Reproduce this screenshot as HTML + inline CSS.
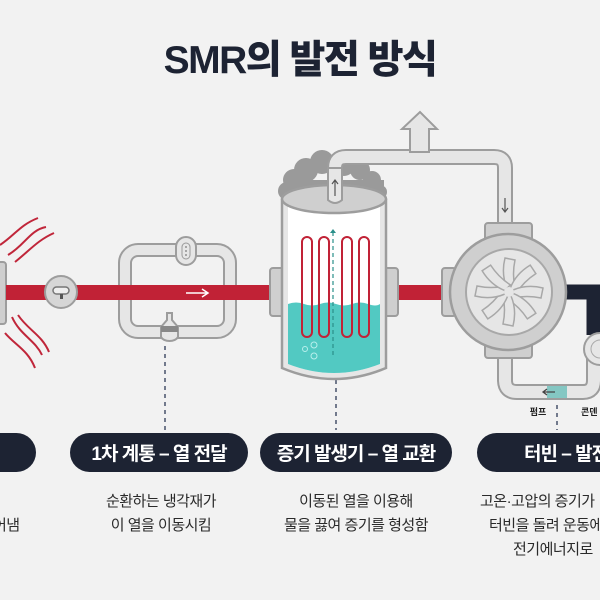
<!DOCTYPE html>
<html><head><meta charset="utf-8"><style>
html,body{margin:0;padding:0;background:#f2f2f2;}
svg{display:block;}
text{font-family:"Liberation Sans","Noto Sans CJK KR",sans-serif;}
</style></head><body>
<svg width="600" height="600" viewBox="0 0 600 600" xmlns="http://www.w3.org/2000/svg">
<rect width="600" height="600" fill="#f2f2f2"/>
<text x="300" y="73" text-anchor="middle" font-size="39" font-weight="900" fill="#1d2333" letter-spacing="-1.5">SMR의 발전 방식</text>

<!-- heat waves -->
<g fill="none" stroke="#c0263a" stroke-width="2">
<path d="M0 245 C15 235,20 225,38 218"/>
<path d="M8 255 C25 245,30 230,46 227"/>
<path d="M15 262 C30 250,38 240,54 233"/>
<path d="M12 317 C20 335,35 340,42 355"/>
<path d="M5 333 C15 345,28 350,35 368"/>
<path d="M18 315 C28 330,42 335,49 352"/>
</g>
<rect x="-6" y="262" width="12" height="62" rx="3" fill="#cfcfcf" stroke="#9d9d9d" stroke-width="2"/>

<!-- primary loop -->
<rect x="125" y="250" width="105" height="82" rx="13" fill="none" stroke="#9d9d9d" stroke-width="14"/>
<rect x="125" y="250" width="105" height="82" rx="13" fill="none" stroke="#e6e6e6" stroke-width="10"/>

<!-- red pipe -->
<rect x="6" y="285" width="440" height="15" fill="#c12236"/>

<!-- valve -->
<circle cx="61" cy="292" r="16" fill="#d6d6d6" stroke="#9d9d9d" stroke-width="2"/>
<rect x="53" y="287" width="16" height="7" rx="3.5" fill="#eee" stroke="#777" stroke-width="1.5"/>
<rect x="60" y="294" width="3" height="5" fill="#555"/>

<path d="M186 293 H208 M202 289 L208 293 L202 297" stroke="#fff" stroke-width="1.5" fill="none"/>
<rect x="176" y="237" width="20" height="28" rx="10" fill="#e6e6e6" stroke="#9d9d9d" stroke-width="2"/>
<rect x="182" y="243" width="8" height="16" rx="4" fill="none" stroke="#999" stroke-width="1"/>
<circle cx="186" cy="247" r="0.9" fill="#777"/><circle cx="186" cy="251" r="0.9" fill="#777"/><circle cx="186" cy="255" r="0.9" fill="#777"/>
<path d="M167 313 H172 V320 L178 327 V337 A9 6 0 0 1 161 337 V327 L167 320 Z" fill="#e6e6e6" stroke="#9d9d9d" stroke-width="2"/>
<rect x="161" y="326" width="17" height="6" fill="#888"/>

<!-- dashed leaders -->
<g stroke="#1d2b4a" stroke-width="1.2" stroke-dasharray="4,4">
<line x1="165" y1="346" x2="165" y2="430"/>
<line x1="336" y1="380" x2="336" y2="430"/>
<line x1="557" y1="405" x2="557" y2="430"/>
</g>

<!-- steam clouds -->
<g fill="#9a9a9a">
<circle cx="322" cy="162" r="12"/><circle cx="306" cy="170" r="12"/><circle cx="294" cy="180" r="11"/><circle cx="287" cy="191" r="9"/>
<circle cx="344" cy="165" r="11"/><circle cx="360" cy="170" r="10"/><circle cx="372" cy="180" r="9"/><circle cx="380" cy="192" r="7"/>
<rect x="284" y="180" width="100" height="20"/>
</g>
<!-- steam pipe -->
<path d="M335 210 V168 Q335 157 346 157 H494 Q505 157 505 168 V225" fill="none" stroke="#9d9d9d" stroke-width="16"/>
<path d="M335 210 V168 Q335 157 346 157 H494 Q505 157 505 168 V225" fill="none" stroke="#e6e6e6" stroke-width="12"/>
<path d="M410 152 V129 H402 L420 112 L437 129 H429 V152 Z" fill="#e6e6e6" stroke="#9d9d9d" stroke-width="2"/>
<path d="M505 198 V212 M502 208 L505 212 L508 208" stroke="#555" stroke-width="1.2" fill="none"/>

<!-- vessel -->
<rect x="270" y="268" width="14" height="48" rx="3" fill="#cfcfcf" stroke="#9d9d9d" stroke-width="2"/>
<rect x="384" y="268" width="14" height="48" rx="3" fill="#cfcfcf" stroke="#9d9d9d" stroke-width="2"/>
<path d="M282 200 V368 Q334 390 386 368 V200 Z" fill="#e6e6e6" stroke="#9d9d9d" stroke-width="2.5"/>
<path d="M288 204 V364 Q334 382 380 364 V204 Z" fill="#ffffff"/>
<path d="M288 304 Q296 301 304 304 Q312 307 320 304 Q328 301 336 304 Q344 307 352 304 Q360 301 368 304 Q376 307 380 304 V364 Q334 382 288 364 Z" fill="#52c9c2"/>
<ellipse cx="334" cy="199" rx="52" ry="14" fill="#cfcfcf" stroke="#9d9d9d" stroke-width="2.5"/>
<path d="M328 200 V168 H342 V200 Q335 206 328 200 Z" fill="#e6e6e6" stroke="#9d9d9d" stroke-width="2"/>
<path d="M335 196 V180 M332 184 L335 180 L338 184" stroke="#555" stroke-width="1.2" fill="none"/>
<g fill="none" stroke="#c12236" stroke-width="2">
<rect x="302" y="237" width="10" height="100" rx="5"/>
<rect x="319" y="237" width="10" height="100" rx="5"/>
<rect x="342" y="237" width="10" height="100" rx="5"/>
<rect x="359" y="237" width="10" height="100" rx="5"/>
</g>
<line x1="333" y1="232" x2="333" y2="358" stroke="#2a8f8a" stroke-width="1.2" stroke-dasharray="4,3"/>
<path d="M330 233 L333 229 L336 233" fill="#2a8f8a"/>
<g fill="none" stroke="#b8efec" stroke-width="1"><circle cx="305" cy="349" r="2.5"/><circle cx="314" cy="345" r="3"/><circle cx="314" cy="356" r="3"/></g>

<!-- return pipe -->
<path d="M505 350 V380 Q505 392 517 392 H583 Q594 392 594 380 V340" fill="none" stroke="#9d9d9d" stroke-width="16"/>
<path d="M505 350 V380 Q505 392 517 392 H583 Q594 392 594 380 V340" fill="none" stroke="#e6e6e6" stroke-width="12"/>
<rect x="547" y="386" width="20" height="12" fill="#84c7c3"/>
<path d="M555 392 H543 M547 389 L543 392 L547 395" stroke="#444" stroke-width="1.3" fill="none"/>
<text x="538" y="415" text-anchor="middle" font-size="9" font-weight="700" fill="#222">펌프</text>
<text x="581" y="415" font-size="9" font-weight="700" fill="#222">콘덴</text>

<!-- dark pipe -->
<path d="M560 292 H594 V335" fill="none" stroke="#1d2333" stroke-width="15"/>

<!-- turbine -->
<rect x="442" y="268" width="14" height="48" rx="3" fill="#cfcfcf" stroke="#9d9d9d" stroke-width="2"/>
<rect x="485" y="223" width="47" height="24" rx="3" fill="#cfcfcf" stroke="#9d9d9d" stroke-width="2"/>
<rect x="485" y="335" width="47" height="23" rx="3" fill="#cfcfcf" stroke="#9d9d9d" stroke-width="2"/>
<circle cx="508" cy="292" r="58" fill="#cfcfcf" stroke="#9d9d9d" stroke-width="2.5"/>
<circle cx="509" cy="292" r="43" fill="#e6e6e6" stroke="#a8a8a8" stroke-width="2"/>
<g transform="translate(509 292)" fill="#e6e6e6" stroke="#a8a8a8" stroke-width="1.5">
<g id="b"><path d="M-2 -4 Q-8 -18 -4 -34 L6 -32 Q3 -18 6 -4 Z"/></g>
<use href="#b" transform="rotate(45)"/><use href="#b" transform="rotate(90)"/><use href="#b" transform="rotate(135)"/>
<use href="#b" transform="rotate(180)"/><use href="#b" transform="rotate(225)"/><use href="#b" transform="rotate(270)"/><use href="#b" transform="rotate(315)"/>
</g>
<circle cx="509" cy="292" r="5" fill="#e6e6e6"/>
<circle cx="600" cy="349" r="16" fill="#e6e6e6" stroke="#9d9d9d" stroke-width="2"/>
<circle cx="600" cy="349" r="9" fill="none" stroke="#aaa" stroke-width="1"/>

<!-- pills -->
<g fill="#1d2333">
<rect x="-40" y="433" width="76" height="39" rx="19.5"/>
<rect x="70" y="433" width="178" height="39" rx="19.5"/>
<rect x="260" y="433" width="192" height="39" rx="19.5"/>
<rect x="477" y="433" width="160" height="39" rx="19.5"/>
</g>
<g fill="#fff" font-size="19" font-weight="700" letter-spacing="-1">
<text x="159" y="460" text-anchor="middle">1차 계통 – 열 전달</text>
<text x="356" y="460" text-anchor="middle">증기 발생기 – 열 교환</text>
<text x="524" y="460">터빈 – 발전</text>
</g>
<g fill="#2a2a2a" font-size="15" letter-spacing="-0.5">
<g text-anchor="middle">
<text x="161" y="506">순환하는 냉각재가</text>
<text x="161" y="530">이 열을 이동시킴</text>
<text x="356" y="506">이동된 열을 이용해</text>
<text x="356" y="530">물을 끓여 증기를 형성함</text>
</g>
<text x="480" y="506">고온·고압의 증기가</text>
<text x="489" y="530">터빈을 돌려 운동에</text>
<text x="513" y="554">전기에너지로</text>
<text x="-7" y="530">어냄</text>
</g>
</svg>
</body></html>
